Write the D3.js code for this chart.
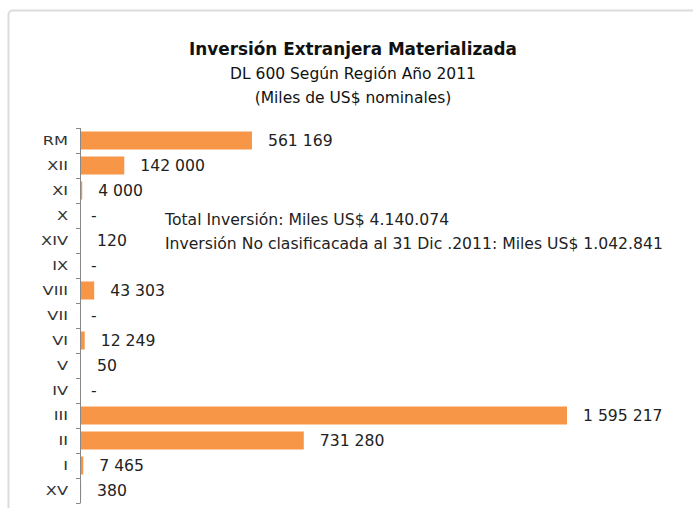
<!DOCTYPE html>
<html>
<head>
<meta charset="utf-8">
<script src="https://cdn.jsdelivr.net/npm/d3@7"></script>
<style>
  body { margin: 0; background: #fff; }
  svg { display: block; }
</style>
</head>
<body>
<svg id="chart" width="693" height="508"></svg>
<script>
// regions top to bottom, as in the original
const regions = ["RM", "XII", "XI", "X", "XIV", "IX", "VIII", "VII", "VI", "V", "IV", "III", "II", "I", "XV"];
const investment = [561169, 142000, 4000, 0, 120, 0, 43303, 0, 12249, 50, 0, 1595217, 731280, 7465, 380];
const titleLines = ["Inversión Extranjera Materializada", "DL 600 Según Región Año 2011", "(Miles de US$ nominales)"];
const notes = ["Total Inversión: Miles US$ 4.140.074", "Inversión No clasificacada al 31 Dic .2011: Miles US$ 1.042.841"];

const font = "'DejaVu Sans', sans-serif";
const svg = d3.select("#chart");
const margin = { top: 128, left: 80 };

// font size that makes a text node span the wanted width
function fitSize(node, width) {
  const fs = parseFloat(node.getAttribute("font-size"));
  return fs * width / node.getComputedTextLength();
}

// light frame around the chart area
svg.append("rect")
  .attr("x", 8.5).attr("y", 10.5)
  .attr("width", 700).attr("height", 520)
  .attr("rx", 4)
  .attr("fill", "none")
  .attr("stroke", "#dcdcdc")
  .attr("stroke-width", 2);

const y = d3.scaleBand().domain(regions).range([margin.top, margin.top + 375]).paddingInner(0.28).paddingOuter(0.14);
const x = d3.scaleLinear().domain([0, 1595217]).range([margin.left, 566]);

// title
const title = svg.append("g").selectAll("text")
  .data(titleLines)
  .join("text")
  .attr("x", 353)
  .attr("y", (d, i) => 55 + i * 24)
  .attr("text-anchor", "middle")
  .attr("font-family", font)
  .attr("font-size", 14)
  .attr("font-weight", (d, i) => i === 0 ? "bold" : "normal")
  .attr("fill", "#111")
  .text(d => d);
const tBold = fitSize(title.nodes()[0], 328);
const tReg = fitSize(title.nodes()[1], 246);
title.attr("font-size", (d, i) => i === 0 ? tBold : tReg);

// bars
svg.append("g").selectAll("rect")
  .data(investment)
  .join("rect")
  .attr("x", x(0) + 1)
  .attr("y", (d, i) => y(regions[i]))
  .attr("width", d => Math.max(0, x(d) - x(0)))
  .attr("height", y.bandwidth())
  .attr("fill", "#F79646");

// axis with ticks between categories
const axis = svg.append("g").attr("stroke", "#888").attr("stroke-width", 1);
axis.append("line")
  .attr("x1", x(0) + 0.5).attr("x2", x(0) + 0.5)
  .attr("y1", margin.top).attr("y2", margin.top + 375);
axis.selectAll("line.tick")
  .data(d3.range(regions.length + 1))
  .join("line")
  .attr("class", "tick")
  .attr("x1", x(0) - 4).attr("x2", x(0) + 0.5)
  .attr("y1", i => margin.top + i * y.step() + 0.5)
  .attr("y2", i => margin.top + i * y.step() + 0.5);

// category labels, drawn a bit wide like the original
svg.append("g").selectAll("text")
  .data(regions)
  .join("text")
  .attr("transform", d => `translate(68,${y(d) + y.bandwidth() / 2}) scale(1.35,1)`)
  .attr("dy", "0.35em")
  .attr("text-anchor", "end")
  .attr("font-family", font)
  .attr("font-size", 12)
  .attr("fill", "#333")
  .text(d => d);

// notes
const noteText = svg.append("g").selectAll("text")
  .data(notes)
  .join("text")
  .attr("x", 165)
  .attr("y", (d, i) => 225 + i * 24)
  .attr("font-family", font)
  .attr("font-size", 14)
  .attr("fill", "#222")
  .text(d => d);
const bodySize = fitSize(noteText.nodes()[1], 498);
noteText.attr("font-size", bodySize);

// value labels
const fmt = v => v === 0 ? "-" : d3.format(",")(v).replace(/,/g, " ");
svg.append("g").selectAll("text")
  .data(investment)
  .join("text")
  .attr("x", d => d === 0 ? x(0) + 11 : x(d) + 17)
  .attr("y", (d, i) => y(regions[i]) + y.bandwidth() / 2)
  .attr("dy", "0.35em")
  .attr("font-family", font)
  .attr("font-size", bodySize)
  .attr("fill", "#222")
  .text(fmt);
</script>
</body>
</html>
